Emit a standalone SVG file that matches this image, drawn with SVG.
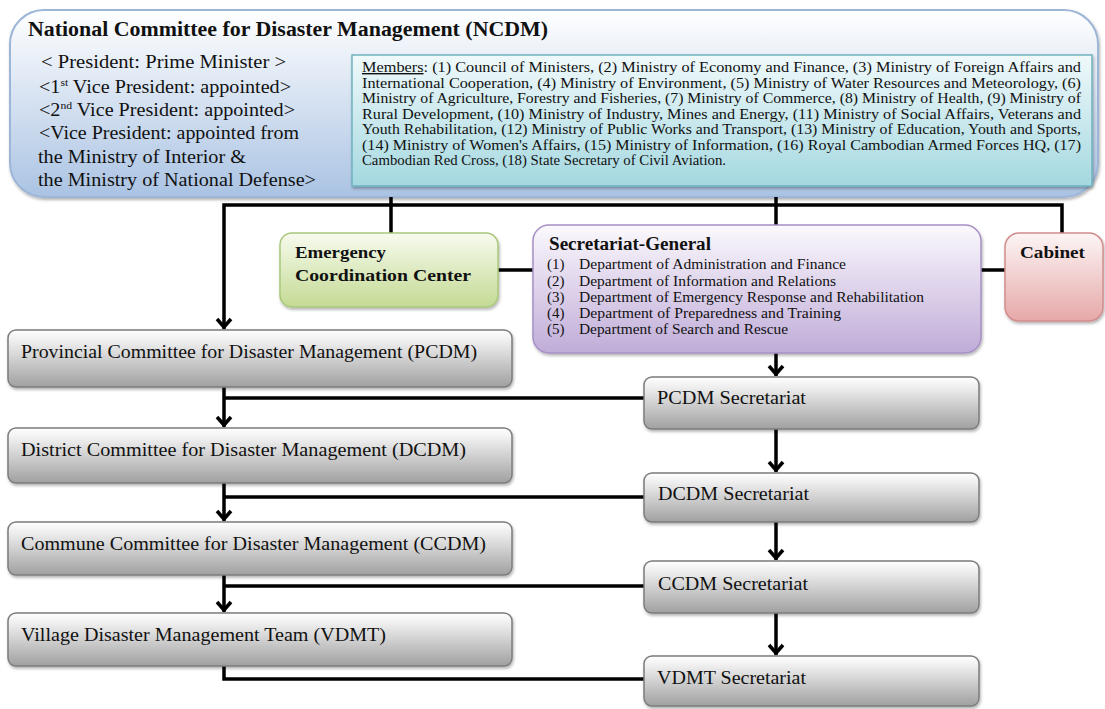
<svg xmlns="http://www.w3.org/2000/svg" width="1105" height="709" viewBox="0 0 1105 709">
<defs>
<linearGradient id="gBlue" x1="0" y1="0" x2="0" y2="1"><stop offset="0" stop-color="#ffffff"/><stop offset="1" stop-color="#aac3e3"/></linearGradient>
<linearGradient id="gCyan" x1="0" y1="0" x2="0" y2="1"><stop offset="0" stop-color="#f0f9fb"/><stop offset="1" stop-color="#a4d8e0"/></linearGradient>
<linearGradient id="gGreen" x1="0" y1="0" x2="0" y2="1"><stop offset="0" stop-color="#f7fbee"/><stop offset="1" stop-color="#c4da94"/></linearGradient>
<linearGradient id="gPurple" x1="0" y1="0" x2="0" y2="1"><stop offset="0" stop-color="#fbf9fd"/><stop offset="1" stop-color="#c0acd8"/></linearGradient>
<linearGradient id="gPink" x1="0" y1="0" x2="0" y2="1"><stop offset="0" stop-color="#fdf5f5"/><stop offset="1" stop-color="#e6a8a8"/></linearGradient>
<linearGradient id="gGray" x1="0" y1="0" x2="0" y2="1"><stop offset="0" stop-color="#ffffff"/><stop offset="0.2" stop-color="#eeeeee"/><stop offset="1" stop-color="#a0a0a0"/></linearGradient>
<filter id="sh" x="-5%" y="-10%" width="110%" height="130%"><feDropShadow dx="1" dy="2" stdDeviation="1.5" flood-color="#000" flood-opacity="0.3"/></filter>
<marker id="arr" markerWidth="16" markerHeight="18" viewBox="-13 -9 16 18" refX="0" refY="0" orient="auto" markerUnits="userSpaceOnUse">
<path d="M-10,-7 L-2,0 L-10,7" fill="none" stroke="#000" stroke-width="3.5" stroke-linejoin="miter"/>
</marker>
</defs>
<style>
.serif{font-family:"Liberation Serif","DejaVu Serif",serif;fill:#111}
.conn{fill:none;stroke:#000;stroke-width:3.5}
.gray{fill:url(#gGray);stroke:#7c7c7c;stroke-width:1.5}
.lbl{font-size:19.5px}
.mem{font-size:14px}
.dep{font-size:15px}
</style>

<g id="ncdm">
<rect x="10" y="10" width="1088" height="187" rx="34" fill="url(#gBlue)" stroke="#9db6d8" stroke-width="2" filter="url(#sh)"/>
<text class="serif" x="28" y="36" font-size="20" font-weight="bold" textLength="520" lengthAdjust="spacingAndGlyphs">National Committee for Disaster Management (NCDM)</text>
<text class="serif" x="41" y="68" font-size="19" textLength="245" lengthAdjust="spacingAndGlyphs">&lt; President: Prime Minister &gt;</text>
<text class="serif" x="39" y="93" font-size="19" textLength="252" lengthAdjust="spacingAndGlyphs">&lt;1<tspan font-size="11" dy="-7">st</tspan><tspan dy="7"> Vice President: appointed&gt;</tspan></text>
<text class="serif" x="39" y="116" font-size="19" textLength="256" lengthAdjust="spacingAndGlyphs">&lt;2<tspan font-size="11" dy="-7">nd</tspan><tspan dy="7"> Vice President: appointed&gt;</tspan></text>
<text class="serif" x="39" y="139" font-size="19" textLength="260" lengthAdjust="spacingAndGlyphs">&lt;Vice President: appointed from</text>
<text class="serif" x="38" y="163" font-size="19" textLength="208" lengthAdjust="spacingAndGlyphs">the Ministry of Interior &amp;</text>
<text class="serif" x="38" y="186" font-size="19" textLength="278" lengthAdjust="spacingAndGlyphs">the Ministry of National Defense&gt;</text>
</g>

<g id="members">
<rect x="352" y="55" width="740" height="131" fill="url(#gCyan)" stroke="#6fb2be" stroke-width="1.5" filter="url(#sh)"/>
<text class="serif mem" x="362" y="72" textLength="719" lengthAdjust="spacingAndGlyphs"><tspan text-decoration="underline">Members</tspan>: (1) Council of Ministers, (2) Ministry of Economy and Finance, (3) Ministry of Foreign Affairs and</text>
<text class="serif mem" x="362" y="87.5" textLength="719" lengthAdjust="spacingAndGlyphs">International Cooperation, (4) Ministry of Environment, (5) Ministry of Water Resources and Meteorology, (6)</text>
<text class="serif mem" x="362" y="103" textLength="719" lengthAdjust="spacingAndGlyphs">Ministry of Agriculture, Forestry and Fisheries, (7) Ministry of Commerce, (8) Ministry of Health, (9) Ministry of</text>
<text class="serif mem" x="362" y="118.5" textLength="719" lengthAdjust="spacingAndGlyphs">Rural Development, (10) Ministry of Industry, Mines and Energy, (11) Ministry of Social Affairs, Veterans and</text>
<text class="serif mem" x="362" y="134" textLength="719" lengthAdjust="spacingAndGlyphs">Youth Rehabilitation, (12) Ministry of Public Works and Transport, (13) Ministry of Education, Youth and Sports,</text>
<text class="serif mem" x="362" y="149.5" textLength="719" lengthAdjust="spacingAndGlyphs">(14) Ministry of Women's Affairs, (15) Ministry of Information, (16) Royal Cambodian Armed Forces HQ, (17)</text>
<text class="serif mem" x="362" y="165" textLength="364" lengthAdjust="spacingAndGlyphs">Cambodian Red Cross, (18) State Secretary of Civil Aviation.</text>
</g>

<g id="connectors">
<path class="conn" d="M1062,233 V205 H224 V329" marker-end="url(#arr)"/>
<path class="conn" d="M391,197 V233"/>
<path class="conn" d="M776,197 V225"/>
<path class="conn" d="M498,270 H533"/>
<path class="conn" d="M981,270 H1005"/>
<path class="conn" d="M776,353 V376" marker-end="url(#arr)"/>
<path class="conn" d="M224,387 V427" marker-end="url(#arr)"/>
<path class="conn" d="M224,398 H644"/>
<path class="conn" d="M224,483 V521" marker-end="url(#arr)"/>
<path class="conn" d="M224,497 H644"/>
<path class="conn" d="M224,575 V612" marker-end="url(#arr)"/>
<path class="conn" d="M224,586 H644"/>
<path class="conn" d="M224,666 V679 H644"/>
<path class="conn" d="M776,429 V472" marker-end="url(#arr)"/>
<path class="conn" d="M776,522 V560" marker-end="url(#arr)"/>
<path class="conn" d="M776,613 V655" marker-end="url(#arr)"/>
</g>

<g id="ecc">
<rect x="280" y="233" width="218" height="74" rx="12" fill="url(#gGreen)" stroke="#a9c77c" stroke-width="1.5" filter="url(#sh)"/>
<text class="serif" x="295" y="258" font-size="17" font-weight="bold" textLength="91" lengthAdjust="spacingAndGlyphs">Emergency</text>
<text class="serif" x="295" y="281" font-size="17" font-weight="bold" textLength="176" lengthAdjust="spacingAndGlyphs">Coordination Center</text>
</g>

<g id="secretariat-general">
<rect x="533" y="225" width="448" height="128" rx="16" fill="url(#gPurple)" stroke="#a690c6" stroke-width="1.5" filter="url(#sh)"/>
<text class="serif" x="549" y="250" font-size="18" font-weight="bold" textLength="162" lengthAdjust="spacingAndGlyphs">Secretariat-General</text>
<text class="serif dep" x="547" y="269">(1)</text><text class="serif dep" x="579" y="269" textLength="267" lengthAdjust="spacingAndGlyphs">Department of Administration and Finance</text>
<text class="serif dep" x="547" y="286">(2)</text><text class="serif dep" x="579" y="286" textLength="257" lengthAdjust="spacingAndGlyphs">Department of Information and Relations</text>
<text class="serif dep" x="547" y="302">(3)</text><text class="serif dep" x="579" y="302" textLength="345" lengthAdjust="spacingAndGlyphs">Department of Emergency Response and Rehabilitation</text>
<text class="serif dep" x="547" y="318">(4)</text><text class="serif dep" x="579" y="318" textLength="262" lengthAdjust="spacingAndGlyphs">Department of Preparedness and Training</text>
<text class="serif dep" x="547" y="334">(5)</text><text class="serif dep" x="579" y="334" textLength="209" lengthAdjust="spacingAndGlyphs">Department of Search and Rescue</text>
</g>

<g id="cabinet">
<rect x="1005" y="233" width="98" height="88" rx="14" fill="url(#gPink)" stroke="#d18d8d" stroke-width="1.5" filter="url(#sh)"/>
<text class="serif" x="1020" y="258" font-size="17" font-weight="bold" textLength="65" lengthAdjust="spacingAndGlyphs">Cabinet</text>
</g>

<g id="pcdm"><rect class="gray" x="8" y="330" width="504" height="57" rx="8" filter="url(#sh)"/>
<text class="serif lbl" x="21" y="358" textLength="456" lengthAdjust="spacingAndGlyphs">Provincial Committee for Disaster Management (PCDM)</text></g>
<g id="dcdm"><rect class="gray" x="8" y="428" width="504" height="55" rx="8" filter="url(#sh)"/>
<text class="serif lbl" x="21" y="456" textLength="445" lengthAdjust="spacingAndGlyphs">District Committee for Disaster Management (DCDM)</text></g>
<g id="ccdm"><rect class="gray" x="8" y="522" width="504" height="53" rx="8" filter="url(#sh)"/>
<text class="serif lbl" x="21" y="550" textLength="465" lengthAdjust="spacingAndGlyphs">Commune Committee for Disaster Management (CCDM)</text></g>
<g id="vdmt"><rect class="gray" x="8" y="613" width="504" height="53" rx="8" filter="url(#sh)"/>
<text class="serif lbl" x="21" y="641" textLength="365" lengthAdjust="spacingAndGlyphs">Village Disaster Management Team (VDMT)</text></g>

<g id="pcdm-sec"><rect class="gray" x="644" y="377" width="335" height="52" rx="8" filter="url(#sh)"/>
<text class="serif lbl" x="657" y="404" textLength="149" lengthAdjust="spacingAndGlyphs">PCDM Secretariat</text></g>
<g id="dcdm-sec"><rect class="gray" x="644" y="473" width="335" height="49" rx="8" filter="url(#sh)"/>
<text class="serif lbl" x="658" y="500" textLength="151" lengthAdjust="spacingAndGlyphs">DCDM Secretariat</text></g>
<g id="ccdm-sec"><rect class="gray" x="644" y="561" width="335" height="52" rx="8" filter="url(#sh)"/>
<text class="serif lbl" x="658" y="590" textLength="150" lengthAdjust="spacingAndGlyphs">CCDM Secretariat</text></g>
<g id="vdmt-sec"><rect class="gray" x="644" y="656" width="335" height="50" rx="8" filter="url(#sh)"/>
<text class="serif lbl" x="657" y="684" textLength="149" lengthAdjust="spacingAndGlyphs">VDMT Secretariat</text></g>
</svg>
